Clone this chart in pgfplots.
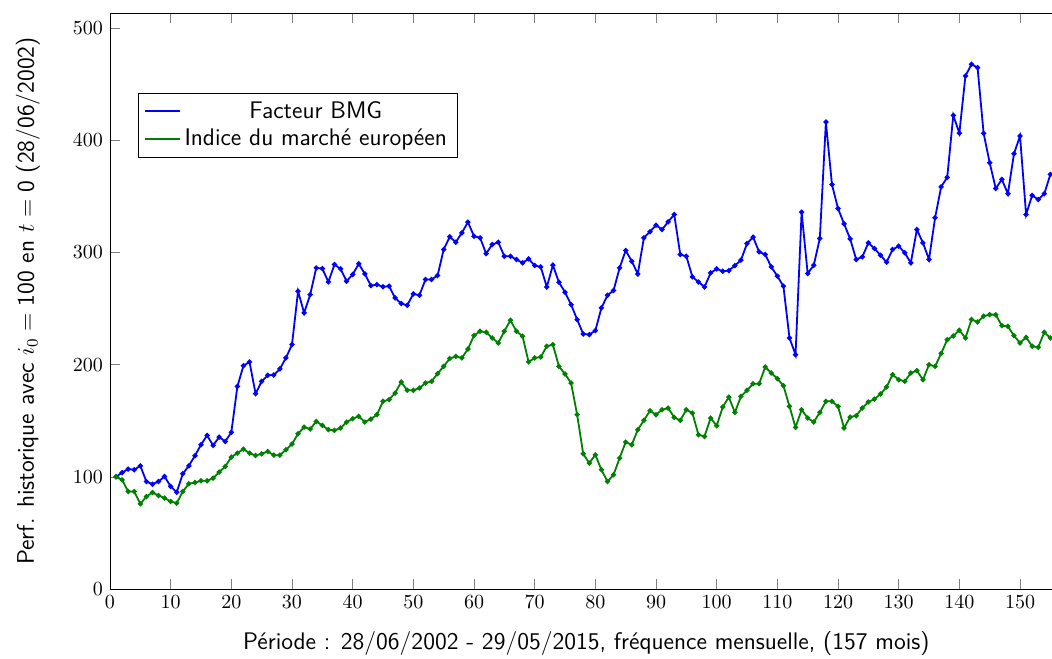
\documentclass[border=0pt]{standalone}
\usepackage{fontspec}
\usepackage{pgfplots}
\pgfplotsset{compat=1.18}
\definecolor{bmgblue}{RGB}{0,0,255}
\definecolor{mktgreen}{RGB}{0,128,0}
\pgfplotstableread{
x y
1 100
2 103.8
3 106.9
4 106.3
5 109.8
6 95.8
7 93.4
8 95.8
9 100.3
10 91.4
11 86.3
12 102.7
13 109.8
14 118.8
15 128.6
16 136.9
17 128
18 135.4
19 131.5
20 139.6
21 180.6
22 199.1
23 202.4
24 174.1
25 185.1
26 190.5
27 190.8
28 196.2
29 206
30 217.9
31 265.5
32 246.1
33 262.5
34 286.3
35 285.7
36 273.8
37 289.3
38 285.4
39 274.4
40 280.4
41 289.9
42 281
43 270.5
44 271.4
45 269.4
46 270
47 259.5
48 254.5
49 253
50 263.1
51 261.9
52 275.9
53 275.9
54 279.5
55 302.7
56 314
57 309.2
58 317.6
59 327.1
60 314.6
61 313.1
62 299.1
63 307.1
64 309.2
65 296.7
66 296.7
67 293.8
68 290.8
69 294.3
70 288.4
71 287.2
72 269.3
73 288.7
74 273.5
75 264.6
76 253.6
77 240.2
78 227.4
79 226.8
80 230.4
81 250.6
82 261.9
83 266.1
84 286.3
85 301.8
86 292.3
87 280.9
88 313.1
89 318.5
90 324.4
91 320.5
92 327.4
93 333.9
94 298.2
95 296.7
96 278.3
97 273.8
98 269.3
99 281.8
100 285.4
101 283.3
102 283.9
103 288.4
104 293.2
105 308
106 313.7
107 300.6
108 298.2
109 287.2
110 278.9
111 270
112 223.8
113 208.9
114 336
115 281.3
116 288.7
117 312.5
118 416.4
119 360.7
120 339.3
121 325.6
122 312.2
123 293.8
124 296.1
125 308.6
126 303.6
127 297.6
128 291.4
129 302.7
130 305.7
131 299.7
132 290.8
133 320.5
134 308.6
135 293.8
136 331
137 358.6
138 367
139 422.3
140 406.5
141 457.4
142 467.9
143 464.9
144 406.3
145 380
146 357.1
147 365.2
148 352.4
149 388.1
150 403.9
151 333.9
152 350.9
153 347.3
154 352.4
155 369.6
}\bmgtable
\pgfplotstableread{
x y
1 100
2 97.3
3 86.9
4 86.9
5 75.9
6 82.4
7 86
8 83.3
9 81
10 78
11 76.5
12 86.9
13 93.8
14 94.9
15 96.4
16 96.4
17 98.8
18 104.2
19 109.2
20 117.6
21 121.1
22 124.7
23 121.1
24 119
25 120.5
26 122.6
27 119.3
28 119.3
29 124.1
30 129.2
31 138.4
32 144.3
33 142.6
34 149.4
35 145.8
36 142
37 141.4
38 143.5
39 148.8
40 151.8
41 153.9
42 148.8
43 151.5
44 155.4
45 167.3
46 168.8
47 174.7
48 184.5
49 177.1
50 177.1
51 179.2
52 183.6
53 185.1
54 192
55 198.5
56 205.4
57 207.4
58 206
59 214
60 225.9
61 229.8
62 228.9
63 223.8
64 219.3
65 229.8
66 239.6
67 229.8
68 225.3
69 202.4
70 206
71 206.8
72 216.4
73 217.9
74 198.5
75 191.7
76 183.6
77 155.4
78 120.5
79 112.2
80 119.6
81 106.3
82 95.8
83 101.8
84 116.7
85 130.9
86 128.6
87 142
88 150.3
89 158.9
90 155.4
91 159.8
92 161.3
93 153
94 150.3
95 159.8
96 156.8
97 137.5
98 136
99 152.4
100 145.5
101 162.2
102 171.1
103 157.4
104 171.7
105 177.1
106 183
107 183
108 197.9
109 192.6
110 187.5
111 181.3
112 162.8
113 144.1
114 159.8
115 152.4
116 148.8
117 157.4
118 167.3
119 167.3
120 162.8
121 143.5
122 153.3
123 154.5
124 161.3
125 166.7
126 169.3
127 173.8
128 180.1
129 191.1
130 186.6
131 185.1
132 192.6
133 194.6
134 186.6
135 200
136 198.5
137 210
138 222.3
139 225.6
140 230.7
141 223.8
142 240.2
143 238.1
144 243.2
145 244.6
146 244.6
147 234.8
148 234.2
149 225.9
150 219.3
151 224.4
152 216.4
153 215.5
154 228.9
155 223.8
}\mkttable
\begin{document}
\begin{tikzpicture}
\begin{axis}[
  scale only axis,
  width=476.3pt, height=288pt,
  xmin=0, xmax=157, ymin=0, ymax=513.6,
  xtick={0,10,...,150},
  ytick={0,100,...,500},
  major tick length=5pt,
  tick style={gray},
  every axis x label/.style={at={([yshift=-30.5pt]rel axis cs:0.5,0)},anchor=base,font=\fontsize{12}{14}\selectfont\sffamily},
  every axis y label/.style={at={([xshift=-38pt]rel axis cs:0,0.5)},rotate=90,anchor=base,font=\fontsize{12}{14}\selectfont\sffamily},
  xlabel={Période : 28/06/2002 - 29/05/2015, fréquence mensuelle, (157 mois)},
  ylabel={Perf. historique avec $i_0 = \textsf{100}$ en $t = \textsf{0}$ (28/06/2002)},
  legend style={at={(0.0294,0.8611)},anchor=north west,draw=black,fill=white,font=\fontsize{12}{14}\selectfont\sffamily},
  legend cell align=center,
  legend image code/.code={\draw[#1,mark=none,line width=1pt] (0cm,0cm) -- (0.6cm,0cm);},
]
\addplot[color=bmgblue, line width=0.9pt, mark=*, mark size=0.8pt] table[x=x,y=y] {\bmgtable};
\addlegendentry{Facteur BMG}
\addplot[color=mktgreen, line width=0.9pt, mark=*, mark size=0.8pt] table[x=x,y=y] {\mkttable};
\addlegendentry{Indice du marché européen}
\coordinate (cropSW) at ([xshift=-55pt,yshift=-35pt]rel axis cs:0,0);
\coordinate (cropNE) at ([yshift=6.5pt]axis cs:155.27,513.6);
\end{axis}
\pgfresetboundingbox
\path[use as bounding box] (cropSW) rectangle (cropNE);
\end{tikzpicture}
\end{document}
